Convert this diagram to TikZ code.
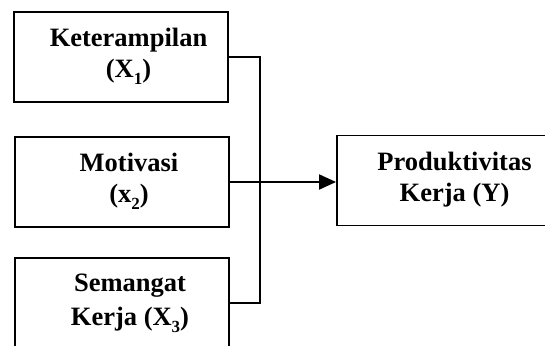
\documentclass[tikz,border=0pt]{standalone}
\usepackage{fontspec}
\setmainfont{Liberation Serif}
\usetikzlibrary{arrows.meta}
\newcommand{\subx}[1]{\raisebox{-0.25em}{\fontsize{17}{17}\selectfont #1}}
\tikzset{
  box/.style={draw, line width=1.9pt, rectangle, minimum width=214pt, minimum height=90pt, inner sep=0pt},
  lbl/.style={align=center, inner sep=0pt, font=\fontsize{26.5}{31}\selectfont\bfseries},
  conn/.style={line width=1.9pt},
}
\begin{document}
\begin{tikzpicture}[x=1pt,y=-1pt]
\useasboundingbox (0,0) rectangle (545,345);
\clip (0,0) rectangle (545,345);
\fill[white] (0,0) rectangle (545,345);
\node[box] (b1) at (121,57) {};
\node[box] (b2) at (122,182) {};
\node[box] (b3) at (122,303) {};
\node[box] (by) at (444,180.5) {};
\node[lbl] (t1) at (128.5,56) {Keterampilan\\(X\subx{1})};
\node[lbl] (t2) at (129,181) {Motivasi\\(x\subx{2})};
\node[lbl, font=\fontsize{26.5}{34}\selectfont\bfseries] (t3) at (130,303.5) {Semangat\\Kerja (X\subx{3})};
\node[lbl] (ty) at (454.5,179.5) {Produktivitas\\Kerja (Y)};
\coordinate (j) at (260,0);
\draw[conn] (b1.east) -- (b1.east -| j) -- (b3.east -| j) -- (b3.east);
\draw[conn, -{Triangle[length=17pt,width=15pt]}] (b2.east) -- (by.west |- b2.east);
\end{tikzpicture}
\end{document}
